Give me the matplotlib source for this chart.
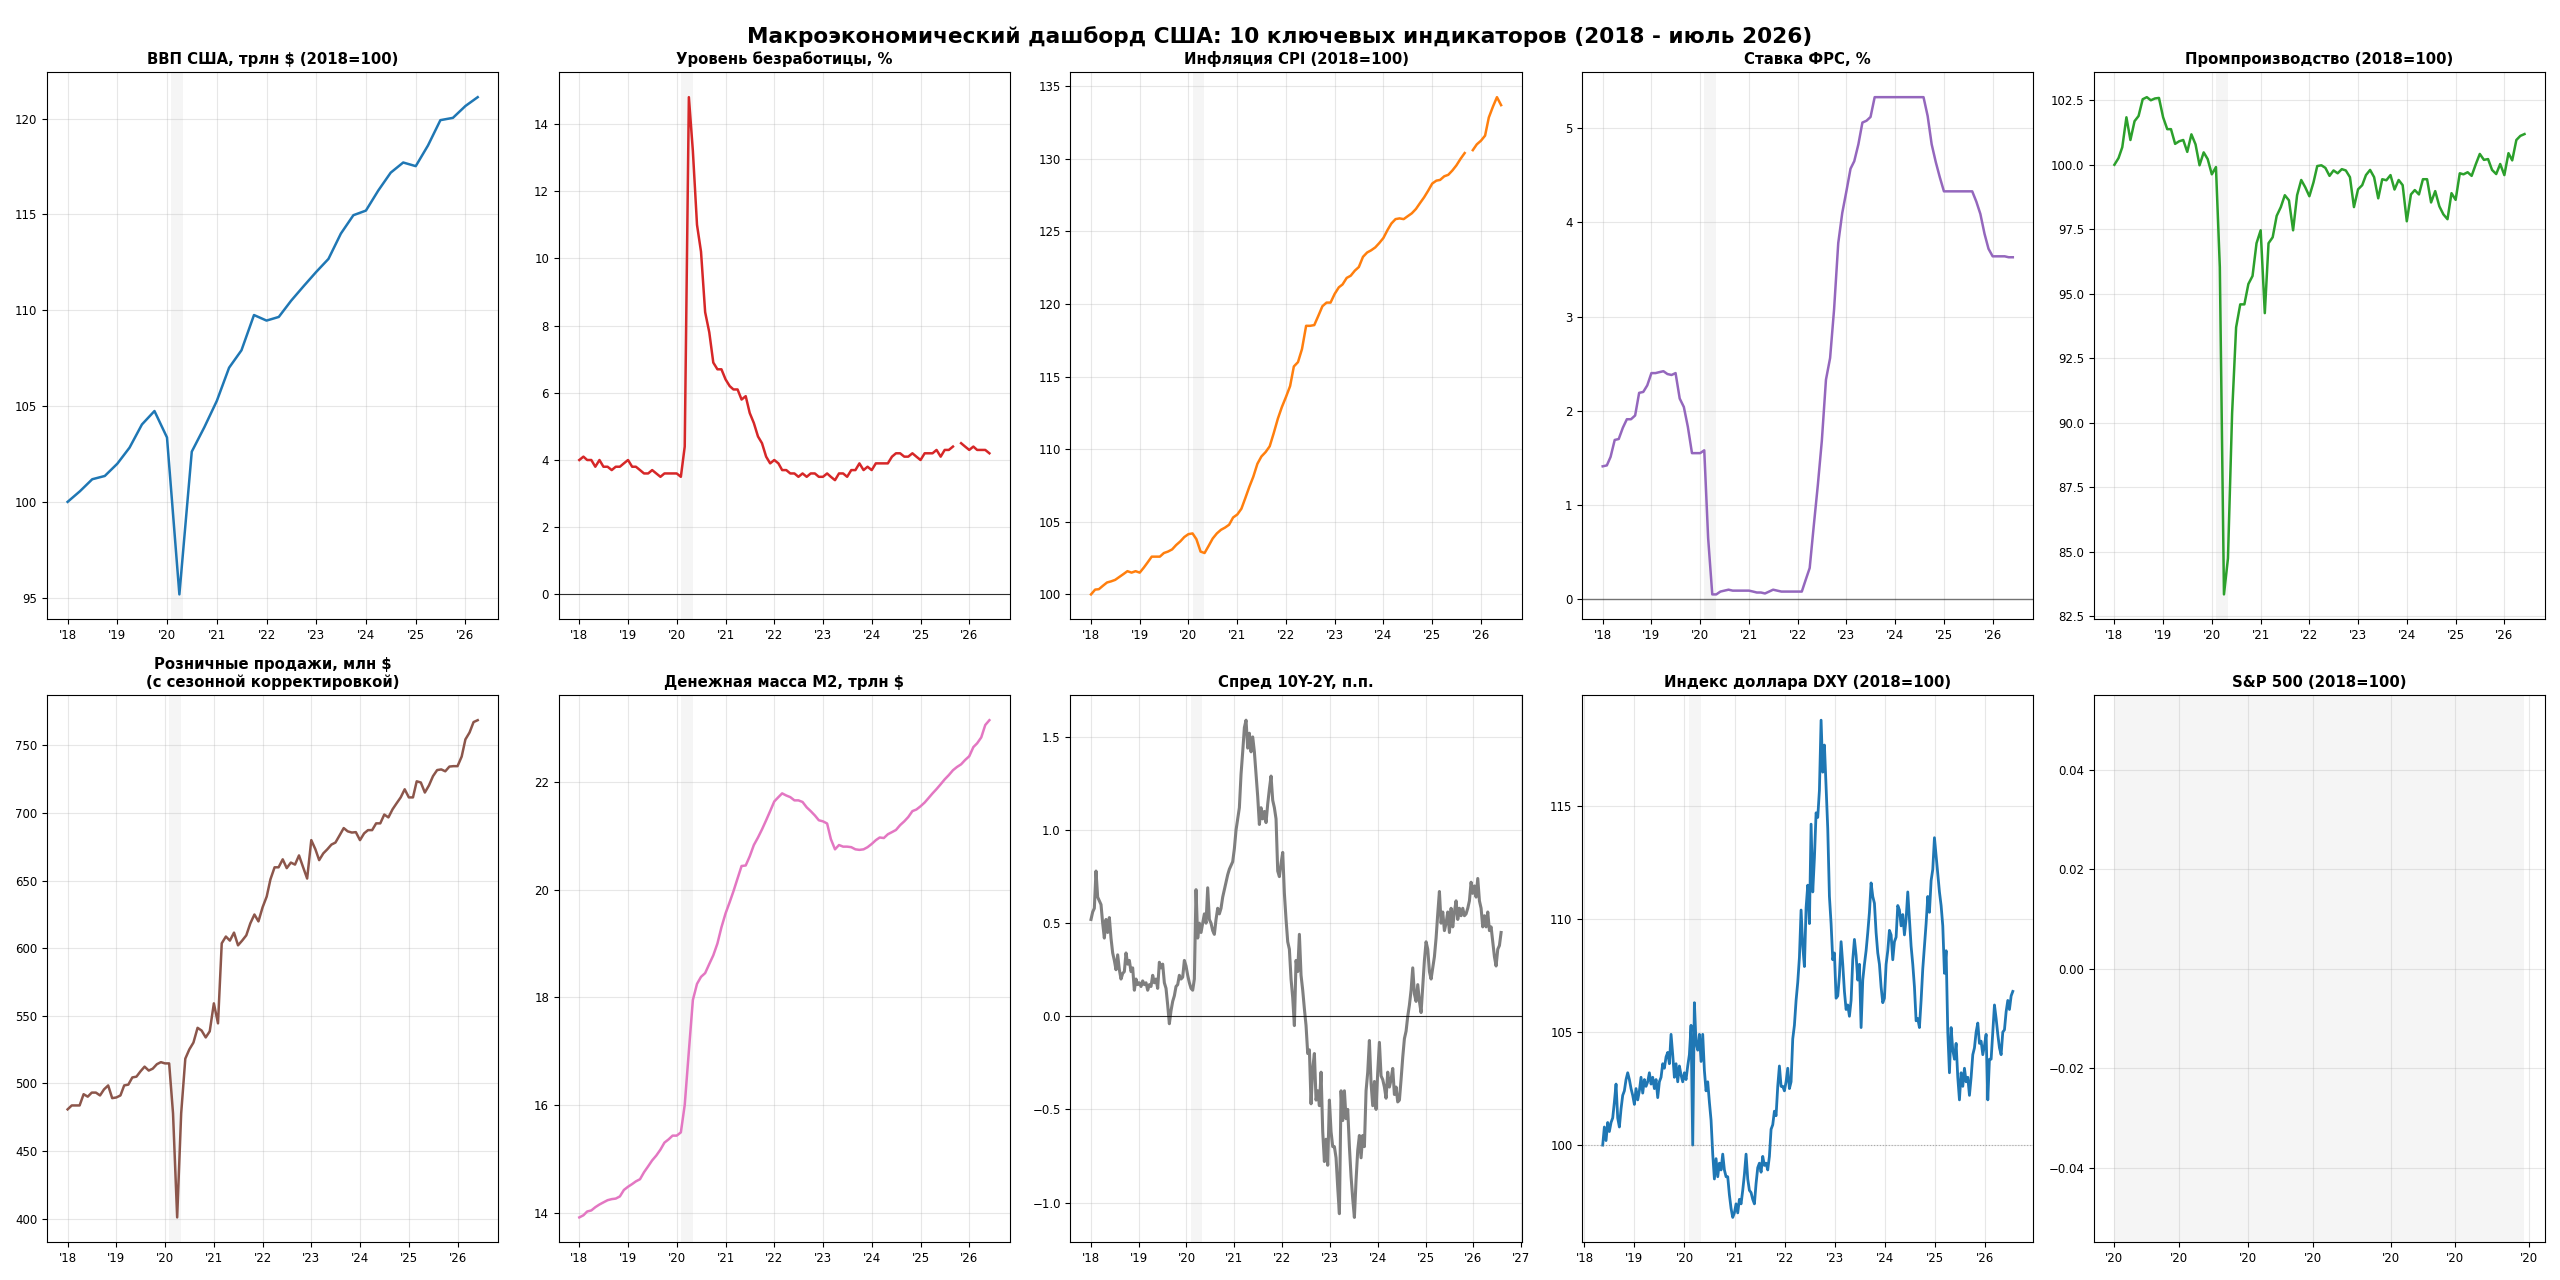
import numpy as np
import pandas as pd
import matplotlib
matplotlib.use('Agg')
import matplotlib.pyplot as plt
import matplotlib.dates as mdates

nan = np.nan

# quarterly GDP index
gdp = [100.0, 100.55, 101.18, 101.35, 101.99, 102.83, 104.04, 104.74, 103.36, 95.17,
       102.62, 103.89, 105.27, 107.0, 107.91, 109.75, 109.46, 109.65, 110.5, 111.26,
       112.0, 112.68, 114.0, 114.96, 115.2, 116.25, 117.18, 117.71, 117.52, 118.6,
       119.92, 120.04, 120.66, 121.12]

# monthly series, Jan 2018 - Jun 2026
unemployment = [4.0, 4.1, 4.0, 4.0, 3.8, 4.0, 3.8, 3.8, 3.7, 3.8, 3.8, 3.9,
                4.0, 3.8, 3.8, 3.7, 3.6, 3.6, 3.7, 3.6, 3.5, 3.6, 3.6, 3.6,
                3.6, 3.5, 4.4, 14.8, 13.2, 11.0, 10.2, 8.4, 7.8, 6.9, 6.7, 6.7,
                6.4, 6.2, 6.1, 6.1, 5.8, 5.9, 5.4, 5.1, 4.7, 4.5, 4.1, 3.9,
                4.0, 3.9, 3.7, 3.7, 3.6, 3.6, 3.5, 3.6, 3.5, 3.6, 3.6, 3.5,
                3.5, 3.6, 3.5, 3.4, 3.6, 3.6, 3.5, 3.7, 3.7, 3.9, 3.7, 3.8,
                3.7, 3.9, 3.9, 3.9, 3.9, 4.1, 4.2, 4.2, 4.1, 4.1, 4.2, 4.1,
                4.0, 4.2, 4.2, 4.2, 4.3, 4.1, 4.3, 4.3, 4.4, nan, 4.5, 4.4,
                4.3, 4.4, 4.3, 4.3, 4.3, 4.2]

cpi = [100.0, 100.33, 100.36, 100.6, 100.82, 100.9, 101.0, 101.2, 101.4, 101.6, 101.5, 101.6,
       101.5, 101.85, 102.2, 102.6, 102.6, 102.6, 102.85, 102.95, 103.1, 103.4, 103.65, 103.95,
       104.15, 104.2, 103.8, 102.95, 102.85, 103.35, 103.85, 104.2, 104.45, 104.6, 104.8, 105.3,
       105.5, 105.9, 106.6, 107.4, 108.1, 109.0, 109.5, 109.8, 110.2, 111.1, 112.1, 112.9,
       113.6, 114.35, 115.7, 116.0, 116.9, 118.5, 118.5, 118.55, 119.2, 119.85, 120.1, 120.1,
       120.7, 121.15, 121.35, 121.8, 121.95, 122.3, 122.55, 123.25, 123.55, 123.7, 123.9, 124.2,
       124.55, 125.1, 125.55, 125.85, 125.9, 125.85, 126.05, 126.25, 126.55, 126.95, 127.35, 127.8,
       128.3, 128.5, 128.55, 128.8, 128.9, 129.2, 129.55, 130.0, 130.4, nan, 130.6, 131.0,
       131.25, 131.6, 132.85, 133.6, 134.25, 133.7]

fed_rate = [1.41, 1.42, 1.51, 1.69, 1.70, 1.82, 1.91, 1.91, 1.95, 2.19, 2.20, 2.27,
            2.40, 2.40, 2.41, 2.42, 2.39, 2.38, 2.40, 2.13, 2.04, 1.83, 1.55, 1.55,
            1.55, 1.58, 0.65, 0.05, 0.05, 0.08, 0.09, 0.10, 0.09, 0.09, 0.09, 0.09,
            0.09, 0.08, 0.07, 0.07, 0.06, 0.08, 0.10, 0.09, 0.08, 0.08, 0.08, 0.08,
            0.08, 0.08, 0.20, 0.33, 0.77, 1.21, 1.68, 2.33, 2.56, 3.08, 3.78, 4.10,
            4.33, 4.57, 4.65, 4.83, 5.06, 5.08, 5.12, 5.33, 5.33, 5.33, 5.33, 5.33,
            5.33, 5.33, 5.33, 5.33, 5.33, 5.33, 5.33, 5.33, 5.13, 4.83, 4.64, 4.48,
            4.33, 4.33, 4.33, 4.33, 4.33, 4.33, 4.33, 4.33, 4.22, 4.09, 3.88, 3.72,
            3.64, 3.64, 3.64, 3.64, 3.63, 3.63]

industry = [100.0, 100.26, 100.68, 101.84, 100.96, 101.69, 101.89, 102.54, 102.62, 102.5, 102.57, 102.59,
            101.84, 101.38, 101.38, 100.81, 100.91, 100.96, 100.5, 101.18, 100.79, 99.98, 100.48, 100.22,
            99.63, 99.91, 96.03, 83.35, 84.75, 90.37, 93.7, 94.59, 94.59, 95.38, 95.69, 96.96,
            97.46, 94.25, 96.96, 97.19, 98.02, 98.36, 98.82, 98.62, 97.46, 98.82, 99.41, 99.13,
            98.78, 99.32, 99.95, 99.98, 99.88, 99.57, 99.78, 99.67, 99.83, 99.78, 99.52, 98.36,
            99.05, 99.21, 99.6, 99.8, 99.52, 98.7, 99.44, 99.4, 99.6, 99.04, 99.41, 99.21,
            97.81, 98.85, 99.02, 98.85, 99.44, 99.44, 98.54, 98.98, 98.39, 98.08, 97.89, 98.9,
            98.64, 99.67, 99.63, 99.71, 99.57, 100.02, 100.42, 100.19, 100.22, 99.8, 99.64, 100.03,
            99.6, 100.45, 100.17, 100.96, 101.12, 101.19]

retail = [480.8, 483.7, 483.7, 483.7, 492.0, 490.2, 493.2, 493.2, 491.1, 495.6, 498.5, 489.1,
          489.6, 491.1, 498.5, 499.1, 504.4, 505.0, 508.9, 512.4, 509.5, 510.9, 514.2, 515.7,
          514.8, 514.8, 477.8, 400.9, 477.8, 518.3, 525.1, 530.2, 541.1, 539.1, 534.0, 538.5,
          559.2, 544.4, 603.6, 608.6, 605.6, 611.5, 602.1, 605.6, 609.5, 618.3, 624.9, 619.8,
          630.2, 638.2, 650.9, 659.8, 659.8, 665.7, 659.2, 663.3, 661.8, 668.6, 659.8, 651.5,
          679.9, 673.1, 665.1, 670.1, 673.1, 676.6, 678.1, 683.4, 688.8, 686.4, 685.5, 685.8,
          679.9, 684.9, 687.3, 687.3, 692.3, 692.3, 698.8, 696.7, 702.7, 707.1, 711.5, 717.5,
          711.5, 711.5, 723.4, 722.5, 715.1, 720.4, 727.2, 731.7, 732.2, 730.8, 734.3, 734.6,
          734.6, 741.7, 754.4, 759.5, 767.2, 768.6]

m2 = [13.91, 13.95, 14.02, 14.04, 14.10, 14.15, 14.19, 14.23, 14.25, 14.26, 14.30, 14.42,
      14.48, 14.53, 14.58, 14.62, 14.75, 14.86, 14.97, 15.06, 15.17, 15.30, 15.36, 15.43,
      15.43, 15.49, 16.0, 17.0, 17.95, 18.25, 18.38, 18.45, 18.62, 18.78, 19.0, 19.3,
      19.56, 19.77, 19.97, 20.21, 20.44, 20.45, 20.62, 20.83, 20.97, 21.12, 21.29, 21.46,
      21.64, 21.72, 21.79, 21.75, 21.72, 21.66, 21.66, 21.63, 21.53, 21.46, 21.38, 21.29,
      21.27, 21.23, 20.94, 20.75, 20.83, 20.80, 20.80, 20.79, 20.75, 20.74, 20.75, 20.79,
      20.85, 20.92, 20.97, 20.96, 21.03, 21.07, 21.11, 21.20, 21.27, 21.35, 21.46, 21.49,
      21.55, 21.62, 21.70, 21.79, 21.87, 21.96, 22.05, 22.13, 22.22, 22.28, 22.33, 22.41,
      22.48, 22.65, 22.72, 22.83, 23.06, 23.15]

# 10Y-2Y spread, roughly every two weeks, Jan 2018 - Jul 2026
spread = [0.52, 0.56, 0.58, 0.78, 0.64, 0.62, 0.60, 0.50, 0.42, 0.52, 0.45, 0.53, 0.42, 0.34, 0.30,
          0.25, 0.33, 0.25, 0.20, 0.23, 0.24, 0.34, 0.28, 0.30, 0.24, 0.26, 0.14, 0.20, 0.17, 0.18,
          0.16, 0.19, 0.17, 0.18, 0.14, 0.17, 0.16, 0.22, 0.18, 0.20, 0.15, 0.29, 0.26, 0.28, 0.18,
          0.15, 0.06, -0.04, 0.03, 0.08, 0.11, 0.16, 0.17, 0.22, 0.20, 0.21, 0.30, 0.27, 0.22, 0.18,
          0.15, 0.14, 0.20, 0.68, 0.42, 0.50, 0.45, 0.50, 0.55, 0.50, 0.69, 0.52, 0.50, 0.46, 0.44,
          0.52, 0.58, 0.55, 0.58, 0.64, 0.68, 0.72, 0.76, 0.79, 0.81, 0.83, 0.90, 1.00, 1.06, 1.12,
          1.30, 1.42, 1.55, 1.59, 1.44, 1.52, 1.42, 1.50, 1.42, 1.30, 1.18, 1.03, 1.12, 1.06, 1.10,
          1.04, 1.14, 1.22, 1.29, 1.16, 1.12, 1.06, 0.78, 0.75, 0.82, 0.88, 0.66, 0.52, 0.40, 0.36,
          0.20, 0.10, -0.05, 0.30, 0.24, 0.44, 0.22, 0.14, 0.04, -0.05, -0.20, -0.18, -0.47, -0.28, -0.20,
          -0.45, -0.40, -0.48, -0.30, -0.62, -0.78, -0.66, -0.80, -0.45, -0.62, -0.70, -0.70, -0.76, -0.92, -1.06,
          -0.40, -0.56, -0.40, -0.55, -0.50, -0.70, -0.86, -0.98, -1.08, -0.88, -0.72, -0.64, -0.76, -0.64, -0.70,
          -0.40, -0.30, -0.13, -0.36, -0.48, -0.35, -0.50, -0.30, -0.14, -0.32, -0.34, -0.38, -0.44, -0.30, -0.38,
          -0.34, -0.28, -0.42, -0.38, -0.46, -0.45, -0.34, -0.22, -0.12, -0.08, 0.00, 0.06, 0.14, 0.26, 0.12,
          0.08, 0.17, 0.08, 0.02, 0.16, 0.30, 0.40, 0.36, 0.24, 0.20, 0.26, 0.32, 0.42, 0.55, 0.67,
          0.50, 0.56, 0.46, 0.50, 0.56, 0.45, 0.58, 0.48, 0.56, 0.62, 0.52, 0.58, 0.54, 0.58, 0.54,
          0.55, 0.58, 0.62, 0.72, 0.66, 0.70, 0.64, 0.74, 0.62, 0.58, 0.48, 0.54, 0.48, 0.56, 0.46,
          0.48, 0.40, 0.32, 0.27, 0.36, 0.38, 0.45]

# dollar index, roughly every two weeks, May 2018 - Jul 2026
dxy = [100.0, 100.8, 100.2, 101.0, 100.6, 101.0, 101.2, 101.9, 102.7, 101.2, 100.8, 101.6, 102.2, 102.4, 102.9,
       103.2, 102.9, 102.5, 102.2, 101.8, 102.5, 102.0, 102.4, 103.0, 102.3, 102.9, 102.6, 102.8, 103.2, 102.7,
       103.0, 102.5, 102.9, 102.1, 102.8, 103.0, 103.6, 103.4, 103.9, 104.1, 103.6, 104.9, 104.0, 103.0, 103.6,
       102.8, 103.5, 103.1, 102.8, 103.2, 102.9, 103.5, 104.0, 105.3, 100.0, 106.3, 104.5, 104.2, 104.9, 103.7,
       104.9, 103.3, 102.4, 102.8, 101.9, 101.1, 99.6, 98.5, 99.4, 98.6, 99.2, 98.9, 99.6, 98.9, 98.6,
       98.6, 97.8, 97.2, 96.8, 97.0, 97.4, 97.0, 97.6, 97.4, 98.0, 98.7, 99.6, 98.5, 98.0, 97.9,
       97.6, 97.4, 98.3, 99.0, 99.2, 98.8, 99.5, 99.1, 99.2, 98.9, 99.5, 100.7, 100.9, 101.5, 101.3,
       102.6, 103.5, 102.6, 102.6, 102.4, 102.8, 103.4, 102.5, 102.8, 104.7, 105.3, 106.4, 107.2, 108.3, 110.4,
       108.8, 107.9, 110.5, 111.5, 109.8, 114.2, 111.2, 112.7, 114.7, 114.5, 115.7, 118.8, 116.5, 117.7, 115.8,
       114.0, 111.0, 109.8, 108.2, 108.5, 106.5, 106.6, 107.5, 109.0, 108.0, 106.8, 106.0, 106.2, 105.7, 106.4,
       108.2, 109.1, 108.4, 107.3, 108.0, 105.2, 107.3, 108.0, 108.6, 109.4, 110.3, 111.6, 111.0, 110.7, 109.4,
       108.5, 108.0, 107.0, 106.3, 106.5, 108.0, 108.6, 109.5, 109.3, 108.2, 109.0, 109.2, 110.6, 110.4, 109.7,
       110.2, 109.3, 110.0, 111.2, 110.0, 108.8, 108.0, 107.0, 105.5, 105.6, 105.2, 106.4, 107.8, 108.8, 109.8,
       111.0, 110.3, 111.7, 112.2, 113.6, 112.8, 112.0, 111.2, 110.6, 109.7, 107.6, 108.6, 105.0, 103.2, 105.2,
       104.2, 103.8, 104.5, 103.0, 102.0, 103.2, 102.6, 103.4, 102.8, 103.0, 102.2, 103.0, 104.0, 104.3, 105.0,
       105.4, 104.5, 104.6, 104.0, 104.4, 104.9, 102.0, 103.8, 103.8, 105.0, 106.2, 105.6, 104.9, 104.3, 104.0,
       105.0, 105.1, 105.9, 106.4, 106.0, 106.6, 106.8]

months = pd.date_range('2018-01-01', periods=len(cpi), freq='MS')
quarters = pd.date_range('2018-01-01', periods=len(gdp), freq='QS')
spread_dates = pd.date_range('2018-01-02', '2026-07-31', periods=len(spread))
dxy_dates = pd.date_range('2018-05-14', '2026-07-25', periods=len(dxy))

recession = (pd.Timestamp('2020-02-01'), pd.Timestamp('2020-04-30'))


def panel(ax, dates, values, title, color, zero=None, lw=1.8):
    ax.axvspan(recession[0], recession[1], color='gray', alpha=0.08, lw=0)
    if dates is not None:
        ax.plot(dates, values, color=color, lw=lw)
        ax.xaxis.set_major_locator(mdates.YearLocator())
    if zero is not None:
        ax.axhline(zero[0], color=zero[1], lw=zero[2], ls=zero[3], alpha=zero[4])
    ax.xaxis.set_major_formatter(mdates.DateFormatter("'%y"))
    ax.set_title(title, fontsize=10.7, fontweight='bold')
    ax.grid(True, alpha=0.3)
    ax.tick_params(labelsize=8.5)


fig, axes = plt.subplots(2, 5, figsize=(25.6, 12.8), dpi=100)
axes = axes.ravel()

panel(axes[0], quarters, gdp, 'ВВП США, трлн $ (2018=100)', '#1f77b4')
panel(axes[1], months, unemployment, 'Уровень безработицы, %', '#d62728',
      zero=(0, 'black', 0.8, '-', 0.8))
panel(axes[2], months, cpi, 'Инфляция CPI (2018=100)', '#ff7f0e')
panel(axes[3], months, fed_rate, 'Ставка ФРС, %', '#9467bd',
      zero=(0, 'black', 1.0, '-', 0.5))
panel(axes[4], months, industry, 'Промпроизводство (2018=100)', '#2ca02c')
panel(axes[5], months, retail, 'Розничные продажи, млн $\n(с сезонной корректировкой)', '#8c564b')
panel(axes[6], months, m2, 'Денежная масса M2, трлн $', '#e377c2')
panel(axes[7], spread_dates, spread, 'Спред 10Y-2Y, п.п.', '#7f7f7f',
      zero=(0, 'black', 0.8, '-', 0.8), lw=2.2)
panel(axes[8], dxy_dates, dxy, 'Индекс доллара DXY (2018=100)', '#1f77b4',
      zero=(100, 'gray', 0.8, ':', 0.6), lw=2.0)

# S&P 500 has no data, only the shaded period
panel(axes[9], None, None, 'S&P 500 (2018=100)', '#1f77b4')
axes[9].set_ylim(-0.055, 0.055)
axes[9].xaxis.set_major_locator(mdates.DayLocator(bymonthday=[1, 15]))

fig.suptitle('Макроэкономический дашборд США: 10 ключевых индикаторов (2018 - июль 2026)',
             fontsize=15.6, fontweight='bold')
fig.tight_layout()
fig.savefig('out.png', dpi=100)
